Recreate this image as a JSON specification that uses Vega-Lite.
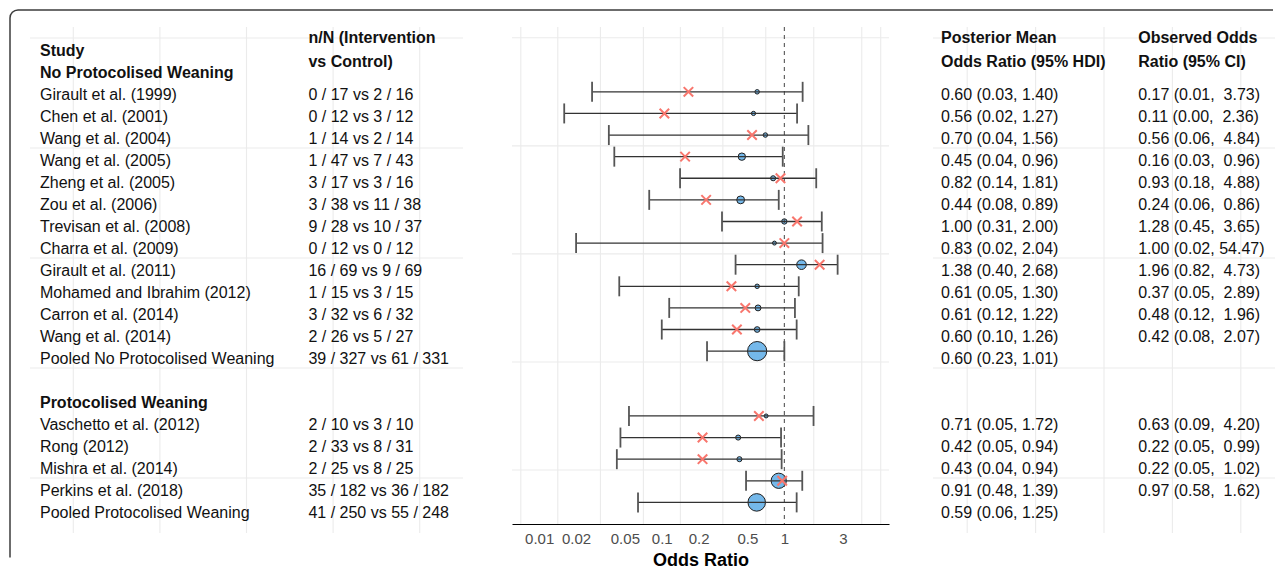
{
  "$schema": "https://vega.github.io/schema/vega-lite/v6.json",
  "width": 1271,
  "height": 556,
  "autosize": "none",
  "padding": {"left": 10, "top": 10, "right": 0, "bottom": 0},
  "background": "white",
  "config": {
    "view": {"stroke": "#3d3d3d", "strokeWidth": 1.5, "cornerRadius": 8, "strokeDash": [1255, 1833, 600]},
    "font": "Liberation Sans",
    "axis": {"grid": false}
  },
  "datasets": {
    "studies": [
      {"row": 2, "study": "Girault et al. (1999)", "nN": "0 / 17 vs 2 / 16", "post_txt": "0.60 (0.03, 1.40)", "obs_txt": "0.17 (0.01,\u00a0 3.73)", "post": 0.60, "lo": 0.027, "hi": 1.41, "obs": 0.165, "weight": 28},
      {"row": 3, "study": "Chen et al. (2001)", "nN": "0 / 12 vs 3 / 12", "post_txt": "0.56 (0.02, 1.27)", "obs_txt": "0.11 (0.00,\u00a0 2.36)", "post": 0.56, "lo": 0.016, "hi": 1.27, "obs": 0.105, "weight": 25},
      {"row": 4, "study": "Wang et al. (2004)", "nN": "1 / 14 vs 2 / 14", "post_txt": "0.70 (0.04, 1.56)", "obs_txt": "0.56 (0.06,\u00a0 4.84)", "post": 0.70, "lo": 0.037, "hi": 1.57, "obs": 0.545, "weight": 28},
      {"row": 5, "study": "Wang et al. (2005)", "nN": "1 / 47 vs 7 / 43", "post_txt": "0.45 (0.04, 0.96)", "obs_txt": "0.16 (0.03,\u00a0 0.96)", "post": 0.45, "lo": 0.041, "hi": 0.97, "obs": 0.155, "weight": 76},
      {"row": 6, "study": "Zheng et al. (2005)", "nN": "3 / 17 vs 3 / 16", "post_txt": "0.82 (0.14, 1.81)", "obs_txt": "0.93 (0.18,\u00a0 4.88)", "post": 0.81, "lo": 0.141, "hi": 1.82, "obs": 0.93, "weight": 36},
      {"row": 7, "study": "Zou et al. (2006)", "nN": "3 / 38 vs 11 / 38", "post_txt": "0.44 (0.08, 0.89)", "obs_txt": "0.24 (0.06,\u00a0 0.86)", "post": 0.44, "lo": 0.079, "hi": 0.90, "obs": 0.23, "weight": 86},
      {"row": 8, "study": "Trevisan et al. (2008)", "nN": "9 / 28 vs 10 / 37", "post_txt": "1.00 (0.31, 2.00)", "obs_txt": "1.28 (0.45,\u00a0 3.65)", "post": 1.00, "lo": 0.31, "hi": 2.02, "obs": 1.27, "weight": 40},
      {"row": 9, "study": "Charra et al. (2009)", "nN": "0 / 12 vs 0 / 12", "post_txt": "0.83 (0.02, 2.04)", "obs_txt": "1.00 (0.02, 54.47)", "post": 0.83, "lo": 0.02, "hi": 2.05, "obs": 1.00, "weight": 22},
      {"row": 10, "study": "Girault et al. (2011)", "nN": "16 / 69 vs 9 / 69", "post_txt": "1.38 (0.40, 2.68)", "obs_txt": "1.96 (0.82,\u00a0 4.73)", "post": 1.38, "lo": 0.40, "hi": 2.72, "obs": 1.94, "weight": 128},
      {"row": 11, "study": "Mohamed and Ibrahim (2012)", "nN": "1 / 15 vs 3 / 15", "post_txt": "0.61 (0.05, 1.30)", "obs_txt": "0.37 (0.05,\u00a0 2.89)", "post": 0.60, "lo": 0.045, "hi": 1.31, "obs": 0.37, "weight": 28},
      {"row": 12, "study": "Carron et al. (2014)", "nN": "3 / 32 vs 6 / 32", "post_txt": "0.61 (0.12, 1.22)", "obs_txt": "0.48 (0.12,\u00a0 1.96)", "post": 0.61, "lo": 0.115, "hi": 1.22, "obs": 0.48, "weight": 49},
      {"row": 13, "study": "Wang et al. (2014)", "nN": "2 / 26 vs 5 / 27", "post_txt": "0.60 (0.10, 1.26)", "obs_txt": "0.42 (0.08,\u00a0 2.07)", "post": 0.60, "lo": 0.10, "hi": 1.26, "obs": 0.41, "weight": 45},
      {"row": 14, "study": "Pooled No Protocolised Weaning", "nN": "39 / 327 vs 61 / 331", "post_txt": "0.60 (0.23, 1.01)", "obs_txt": "", "post": 0.60, "lo": 0.234, "hi": 1.0, "obs": null, "weight": 515},
      {"row": 17, "study": "Vaschetto et al. (2012)", "nN": "2 / 10 vs 3 / 10", "post_txt": "0.71 (0.05, 1.72)", "obs_txt": "0.63 (0.09,\u00a0 4.20)", "post": 0.71, "lo": 0.054, "hi": 1.73, "obs": 0.62, "weight": 22},
      {"row": 18, "study": "Rong (2012)", "nN": "2 / 33 vs 8 / 31", "post_txt": "0.42 (0.05, 0.94)", "obs_txt": "0.22 (0.05,\u00a0 0.99)", "post": 0.42, "lo": 0.046, "hi": 0.94, "obs": 0.215, "weight": 36},
      {"row": 19, "study": "Mishra et al. (2014)", "nN": "2 / 25 vs 8 / 25", "post_txt": "0.43 (0.04, 0.94)", "obs_txt": "0.22 (0.05,\u00a0 1.02)", "post": 0.43, "lo": 0.043, "hi": 0.95, "obs": 0.215, "weight": 36},
      {"row": 20, "study": "Perkins et al. (2018)", "nN": "35 / 182 vs 36 / 182", "post_txt": "0.91 (0.48, 1.39)", "obs_txt": "0.97 (0.58,\u00a0 1.62)", "post": 0.90, "lo": 0.487, "hi": 1.40, "obs": 0.96, "weight": 324},
      {"row": 21, "study": "Pooled Protocolised Weaning", "nN": "41 / 250 vs 55 / 248", "post_txt": "0.59 (0.06, 1.25)", "obs_txt": "", "post": 0.595, "lo": 0.064, "hi": 1.26, "obs": null, "weight": 428}
    ],
    "groups": [
      {"row": 0, "label": "Study"},
      {"row": 1, "label": "No Protocolised Weaning"},
      {"row": 16, "label": "Protocolised Weaning"}
    ],
    "hgrid": [{"v": -0.5}, {"v": 4.5}, {"v": 9.5}, {"v": 14.5}, {"v": 19.5}],
    "vgrid_text": [{"v": 0.1}, {"v": 0.3}, {"v": 0.5}, {"v": 0.7}, {"v": 0.9}],
    "vgrid_plot": [{"v": 0.00708}, {"v": 0.01418}, {"v": 0.0316}, {"v": 0.0708}, {"v": 0.1418}, {"v": 0.315}, {"v": 0.705}, {"v": 1.738}, {"v": 4.28}, {"v": 6.11}],
    "one": [{"k": 1}]
  },
  "resolve": {"scale": {"x": "independent", "y": "independent", "size": "independent"}, "axis": {"x": "independent", "y": "independent"}},
  "layer": [
    {
      "layer": [
        {"data": {"name": "hgrid"}, "mark": {"type": "rule", "color": "#EBEBEB", "strokeWidth": 1.1},
         "encoding": {"y": {"field": "v", "type": "quantitative", "scale": {"domain": [-1, 22], "range": [17, 523]}, "axis": null},
                      "x": {"datum": 0, "type": "quantitative", "scale": {"domain": [0, 1], "range": [20, 453]}, "axis": null},
                      "x2": {"datum": 1}}},
        {"data": {"name": "vgrid_text"}, "mark": {"type": "rule", "color": "#EBEBEB", "strokeWidth": 1.1},
         "encoding": {"x": {"field": "v", "type": "quantitative", "scale": {"domain": [0, 1], "range": [20, 453]}, "axis": null},
                      "y": {"datum": -1, "type": "quantitative", "scale": {"domain": [-1, 22], "range": [17, 523]}, "axis": null},
                      "y2": {"datum": 22}}},
        {"data": {"name": "studies"}, "mark": {"type": "text", "align": "left", "baseline": "middle", "fontSize": 16, "dy": 2, "color": "#111"},
         "encoding": {"x": {"datum": 0.023, "type": "quantitative", "scale": {"domain": [0, 1], "range": [20, 453]}, "axis": null},
                      "y": {"field": "row", "type": "quantitative", "scale": {"domain": [-1, 22], "range": [17, 523]}, "axis": null},
                      "text": {"field": "study"}}},
        {"data": {"name": "studies"}, "mark": {"type": "text", "align": "left", "baseline": "middle", "fontSize": 16, "dy": 2, "color": "#111"},
         "encoding": {"x": {"datum": 0.643, "type": "quantitative", "scale": {"domain": [0, 1], "range": [20, 453]}, "axis": null},
                      "y": {"field": "row", "type": "quantitative", "scale": {"domain": [-1, 22], "range": [17, 523]}, "axis": null},
                      "text": {"field": "nN"}}},
        {"data": {"name": "groups"}, "mark": {"type": "text", "align": "left", "baseline": "middle", "fontSize": 16, "fontWeight": "bold", "dy": 2, "color": "#111"},
         "encoding": {"x": {"datum": 0.023, "type": "quantitative", "scale": {"domain": [0, 1], "range": [20, 453]}, "axis": null},
                      "y": {"field": "row", "type": "quantitative", "scale": {"domain": [-1, 22], "range": [17, 523]}, "axis": null},
                      "text": {"field": "label"}}},
        {"data": {"name": "one"}, "mark": {"type": "text", "align": "left", "baseline": "middle", "fontSize": 16, "fontWeight": "bold", "lineHeight": 24, "dy": -11, "color": "#111", "text": ["n/N (Intervention", "vs Control)"]},
         "encoding": {"x": {"datum": 0.643, "type": "quantitative", "scale": {"domain": [0, 1], "range": [20, 453]}, "axis": null},
                      "y": {"datum": 0, "type": "quantitative", "scale": {"domain": [-1, 22], "range": [17, 523]}, "axis": null}}}
      ]
    },
    {
      "layer": [
        {"data": {"name": "hgrid"}, "mark": {"type": "rule", "color": "#EBEBEB", "strokeWidth": 1.1},
         "encoding": {"y": {"field": "v", "type": "quantitative", "scale": {"domain": [-1, 22], "range": [17, 514]}, "axis": null},
                      "x": {"datum": 0.006, "type": "quantitative", "scale": {"type": "log", "domain": [0.006, 7.14], "range": [502, 879], "nice": false},
                            "axis": {"values": [0.01, 0.02, 0.05, 0.1, 0.2, 0.5, 1, 3], "labelExpr": "'' + datum.value", "orient": "bottom", "offset": -42, "ticks": false, "domainColor": "#000", "domainWidth": 1.1, "labelColor": "#4D4D4D", "labelFontSize": 15, "labelPadding": 7, "labelFont": "Liberation Sans", "title": "Odds Ratio", "titleFontSize": 18, "titleFontWeight": "bold", "titleColor": "#000", "titleFont": "Liberation Sans", "titlePadding": 5, "grid": false}},
                      "x2": {"datum": 7.14}}},
        {"data": {"name": "vgrid_plot"}, "mark": {"type": "rule", "color": "#EBEBEB", "strokeWidth": 1.1},
         "encoding": {"x": {"field": "v", "type": "quantitative", "scale": {"type": "log", "domain": [0.006, 7.14], "range": [502, 879], "nice": false},
                            "axis": {"values": [0.01, 0.02, 0.05, 0.1, 0.2, 0.5, 1, 3], "labelExpr": "'' + datum.value", "orient": "bottom", "offset": -42, "ticks": false, "domainColor": "#000", "domainWidth": 1.1, "labelColor": "#4D4D4D", "labelFontSize": 15, "labelPadding": 7, "labelFont": "Liberation Sans", "title": "Odds Ratio", "titleFontSize": 18, "titleFontWeight": "bold", "titleColor": "#000", "titleFont": "Liberation Sans", "titlePadding": 5, "grid": false}},
                      "y": {"datum": -1, "type": "quantitative", "scale": {"domain": [-1, 22], "range": [17, 514]}, "axis": null},
                      "y2": {"datum": 22}}},
        {"data": {"name": "studies"}, "mark": {"type": "circle", "fill": "#74B8EA", "stroke": "#1f1f1f", "strokeWidth": 1, "opacity": 1, "fillOpacity": 1},
         "encoding": {"x": {"field": "post", "type": "quantitative", "scale": {"type": "log", "domain": [0.006, 7.14], "range": [502, 879], "nice": false},
                            "axis": {"values": [0.01, 0.02, 0.05, 0.1, 0.2, 0.5, 1, 3], "labelExpr": "'' + datum.value", "orient": "bottom", "offset": -42, "ticks": false, "domainColor": "#000", "domainWidth": 1.1, "labelColor": "#4D4D4D", "labelFontSize": 15, "labelPadding": 7, "labelFont": "Liberation Sans", "title": "Odds Ratio", "titleFontSize": 18, "titleFontWeight": "bold", "titleColor": "#000", "titleFont": "Liberation Sans", "titlePadding": 5, "grid": false}},
                      "y": {"field": "row", "type": "quantitative", "scale": {"domain": [-1, 22], "range": [17, 514]}, "axis": null},
                      "size": {"field": "weight", "type": "quantitative", "scale": {"domain": [0, 515], "range": [0, 370], "zero": true}, "legend": null}}},
        {"data": {"name": "one"}, "mark": {"type": "rule", "color": "#555555", "strokeWidth": 1.1, "strokeDash": [4, 4]},
         "encoding": {"x": {"datum": 1, "type": "quantitative", "scale": {"type": "log", "domain": [0.006, 7.14], "range": [502, 879], "nice": false},
                            "axis": {"values": [0.01, 0.02, 0.05, 0.1, 0.2, 0.5, 1, 3], "labelExpr": "'' + datum.value", "orient": "bottom", "offset": -42, "ticks": false, "domainColor": "#000", "domainWidth": 1.1, "labelColor": "#4D4D4D", "labelFontSize": 15, "labelPadding": 7, "labelFont": "Liberation Sans", "title": "Odds Ratio", "titleFontSize": 18, "titleFontWeight": "bold", "titleColor": "#000", "titleFont": "Liberation Sans", "titlePadding": 5, "grid": false}},
                      "y": {"datum": -1, "type": "quantitative", "scale": {"domain": [-1, 22], "range": [17, 514]}, "axis": null},
                      "y2": {"datum": 22}}},
        {"data": {"name": "studies"}, "mark": {"type": "rule", "color": "#333333", "strokeWidth": 1.3},
         "encoding": {"x": {"field": "lo", "type": "quantitative", "scale": {"type": "log", "domain": [0.006, 7.14], "range": [502, 879], "nice": false},
                            "axis": {"values": [0.01, 0.02, 0.05, 0.1, 0.2, 0.5, 1, 3], "labelExpr": "'' + datum.value", "orient": "bottom", "offset": -42, "ticks": false, "domainColor": "#000", "domainWidth": 1.1, "labelColor": "#4D4D4D", "labelFontSize": 15, "labelPadding": 7, "labelFont": "Liberation Sans", "title": "Odds Ratio", "titleFontSize": 18, "titleFontWeight": "bold", "titleColor": "#000", "titleFont": "Liberation Sans", "titlePadding": 5, "grid": false}},
                      "x2": {"field": "hi"},
                      "y": {"field": "row", "type": "quantitative", "scale": {"domain": [-1, 22], "range": [17, 514]}, "axis": null}}},
        {"data": {"name": "studies"}, "mark": {"type": "tick", "orient": "vertical", "size": 20, "thickness": 1.8, "color": "#555555", "opacity": 1},
         "encoding": {"x": {"field": "lo", "type": "quantitative", "scale": {"type": "log", "domain": [0.006, 7.14], "range": [502, 879], "nice": false},
                            "axis": {"values": [0.01, 0.02, 0.05, 0.1, 0.2, 0.5, 1, 3], "labelExpr": "'' + datum.value", "orient": "bottom", "offset": -42, "ticks": false, "domainColor": "#000", "domainWidth": 1.1, "labelColor": "#4D4D4D", "labelFontSize": 15, "labelPadding": 7, "labelFont": "Liberation Sans", "title": "Odds Ratio", "titleFontSize": 18, "titleFontWeight": "bold", "titleColor": "#000", "titleFont": "Liberation Sans", "titlePadding": 5, "grid": false}},
                      "y": {"field": "row", "type": "quantitative", "scale": {"domain": [-1, 22], "range": [17, 514]}, "axis": null}}},
        {"data": {"name": "studies"}, "mark": {"type": "tick", "orient": "vertical", "size": 20, "thickness": 1.8, "color": "#555555", "opacity": 1},
         "encoding": {"x": {"field": "hi", "type": "quantitative", "scale": {"type": "log", "domain": [0.006, 7.14], "range": [502, 879], "nice": false},
                            "axis": {"values": [0.01, 0.02, 0.05, 0.1, 0.2, 0.5, 1, 3], "labelExpr": "'' + datum.value", "orient": "bottom", "offset": -42, "ticks": false, "domainColor": "#000", "domainWidth": 1.1, "labelColor": "#4D4D4D", "labelFontSize": 15, "labelPadding": 7, "labelFont": "Liberation Sans", "title": "Odds Ratio", "titleFontSize": 18, "titleFontWeight": "bold", "titleColor": "#000", "titleFont": "Liberation Sans", "titlePadding": 5, "grid": false}},
                      "y": {"field": "row", "type": "quantitative", "scale": {"domain": [-1, 22], "range": [17, 514]}, "axis": null}}},
        {"data": {"name": "studies"}, "transform": [{"filter": "datum.obs != null"}],
         "mark": {"type": "point", "shape": "M-1,-1L1,1M-1,1L1,-1", "filled": false, "stroke": "#F8766D", "strokeWidth": 2, "size": 90, "opacity": 1},
         "encoding": {"x": {"field": "obs", "type": "quantitative", "scale": {"type": "log", "domain": [0.006, 7.14], "range": [502, 879], "nice": false},
                            "axis": {"values": [0.01, 0.02, 0.05, 0.1, 0.2, 0.5, 1, 3], "labelExpr": "'' + datum.value", "orient": "bottom", "offset": -42, "ticks": false, "domainColor": "#000", "domainWidth": 1.1, "labelColor": "#4D4D4D", "labelFontSize": 15, "labelPadding": 7, "labelFont": "Liberation Sans", "title": "Odds Ratio", "titleFontSize": 18, "titleFontWeight": "bold", "titleColor": "#000", "titleFont": "Liberation Sans", "titlePadding": 5, "grid": false}},
                      "y": {"field": "row", "type": "quantitative", "scale": {"domain": [-1, 22], "range": [17, 514]}, "axis": null}}}
      ]
    },
    {
      "layer": [
        {"data": {"name": "hgrid"}, "mark": {"type": "rule", "color": "#EBEBEB", "strokeWidth": 1.1},
         "encoding": {"y": {"field": "v", "type": "quantitative", "scale": {"domain": [-1, 22], "range": [17, 523]}, "axis": null},
                      "x": {"datum": 0, "type": "quantitative", "scale": {"domain": [0, 1], "range": [923, 1265]}, "axis": null},
                      "x2": {"datum": 1}}},
        {"data": {"name": "vgrid_text"}, "mark": {"type": "rule", "color": "#EBEBEB", "strokeWidth": 1.1},
         "encoding": {"x": {"field": "v", "type": "quantitative", "scale": {"domain": [0, 1], "range": [923, 1265]}, "axis": null},
                      "y": {"datum": -1, "type": "quantitative", "scale": {"domain": [-1, 22], "range": [17, 523]}, "axis": null},
                      "y2": {"datum": 22}}},
        {"data": {"name": "studies"}, "mark": {"type": "text", "align": "left", "baseline": "middle", "fontSize": 16, "dy": 2, "color": "#111"},
         "encoding": {"x": {"datum": 0.0234, "type": "quantitative", "scale": {"domain": [0, 1], "range": [923, 1265]}, "axis": null},
                      "y": {"field": "row", "type": "quantitative", "scale": {"domain": [-1, 22], "range": [17, 523]}, "axis": null},
                      "text": {"field": "post_txt"}}},
        {"data": {"name": "studies"}, "mark": {"type": "text", "align": "left", "baseline": "middle", "fontSize": 16, "dy": 2, "color": "#111"},
         "encoding": {"x": {"datum": 0.6, "type": "quantitative", "scale": {"domain": [0, 1], "range": [923, 1265]}, "axis": null},
                      "y": {"field": "row", "type": "quantitative", "scale": {"domain": [-1, 22], "range": [17, 523]}, "axis": null},
                      "text": {"field": "obs_txt"}}},
        {"data": {"name": "one"}, "mark": {"type": "text", "align": "left", "baseline": "middle", "fontSize": 16, "fontWeight": "bold", "lineHeight": 24, "dy": -11, "color": "#111", "text": ["Posterior Mean", "Odds Ratio (95% HDI)"]},
         "encoding": {"x": {"datum": 0.0234, "type": "quantitative", "scale": {"domain": [0, 1], "range": [923, 1265]}, "axis": null},
                      "y": {"datum": 0, "type": "quantitative", "scale": {"domain": [-1, 22], "range": [17, 523]}, "axis": null}}},
        {"data": {"name": "one"}, "mark": {"type": "text", "align": "left", "baseline": "middle", "fontSize": 16, "fontWeight": "bold", "lineHeight": 24, "dy": -11, "color": "#111", "text": ["Observed Odds", "Ratio (95% CI)"]},
         "encoding": {"x": {"datum": 0.6, "type": "quantitative", "scale": {"domain": [0, 1], "range": [923, 1265]}, "axis": null},
                      "y": {"datum": 0, "type": "quantitative", "scale": {"domain": [-1, 22], "range": [17, 523]}, "axis": null}}}
      ]
    }
  ]
}
